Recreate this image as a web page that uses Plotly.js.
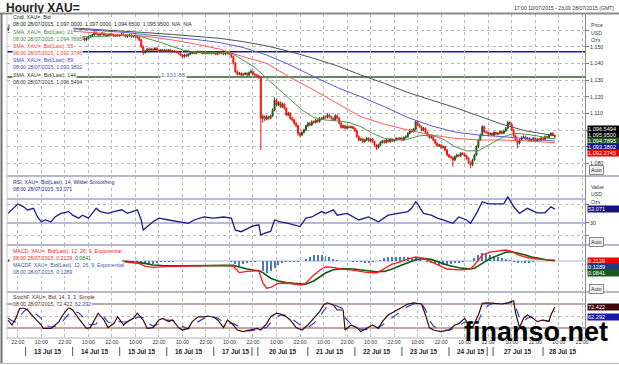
<!DOCTYPE html>
<html><head><meta charset="utf-8">
<script src="https://cdn.plot.ly/plotly-3.0.1.min.js"></script>
<style>html,body{margin:0;padding:0;background:#fff;}#chart{width:619px;height:365px;}</style>
</head><body><div id="chart"></div>
<script>
// ---------- DATA (hourly bars, trading-hour index) ----------
const openP = [1160,1161,1162,1160,1159,1159.5,1158,1157,1157.5,1158,
1158.5,1159,1158,1157,1157.5,1156,1155,1156,1157,1156.5,
1156,1157,1156,1155.5,1156,1155,1154,1155,1156,1156.5,
1156,1157,1156.5,1156,1155,1155.5,1154.5,1155,1156,1155,
1154,1155,1156,1156.5,1157,1158.5,1157.5,1157,1157.5,1158,
1157,1156.5,1157,1157.5,1157,1156.5,1157,1156.5,1157,1157.5,
1157,1156,1156.5,1157,1156,1156.5,1156,1155.5,1154,1150,
1146.5,1147.5,1148.5,1148,1148.5,1148,1149,1148,1147.5,1148,
1147.5,1148,1147.5,1148,1147,1147.5,1147,1146.5,1146,1145,
1144,1145,1144.5,1145.5,1146,1146.5,1146,1146.5,1147,1146.5,
1146,1146.5,1146,1146.5,1146,1146.5,1146,1145.5,1146,1146.5,
1146,1145.5,1146,1146.5,1145.5,1144,1140,1135,1133.5,1134,
1133,1133.5,1134,1133,1134.5,1135,1133.5,1133,1132.5,1131.5,
1107,1108,1106.5,1108,1107,1108.5,1112,1118,1115,1116.5,
1114,1115.5,1113,1109,1110,1107,1106,1104,1102.5,1098,
1097,1098.5,1100,1102.5,1104,1103,1105,1104.5,1106,1105,
1107,1106.5,1108,1107.5,1109,1108,1107,1106,1108.5,1107,
1104,1101.5,1102.5,1101,1102,1101.5,1102,1101,1099.5,1096,
1094,1094.5,1093,1094,1095,1093.5,1094.5,1093,1091,1089.5,
1091,1092.5,1093.5,1092.5,1094,1093,1094.5,1093.5,1094,1095,
1094.5,1095,1094,1095.5,1096,1098,1100,1099,1100.5,1105,
1103,1102,1100,1101,1098.5,1097,1095.5,1096,1094,1092,
1090.5,1091,1089.5,1090,1088,1085,1084,1083.5,1082,1084,
1085,1084.5,1086,1085.5,1084.5,1083,1080.5,1079,1082,1085,
1090,1094,1097,1102,1099,1098.5,1097.5,1098,1097,1098.5,
1097.5,1098,1099,1098,1099.5,1101,1104.5,1103.5,1100,1096.5,
1094,1092,1094,1095.5,1096,1094.5,1095,1093.5,1094,1095,
1093.5,1094.5,1094,1095,1094.5,1096,1095.5,1097,1098,1097];
const highP = [1162,1163,1162.8,1160.6,1160.2,1160,1158.6,1158.2,1158.7,1159.2,
1159.8,1159.6,1158.5,1158.1,1158,1156.7,1156.6,1157.8,1157.6,1157.2,
1157.7,1157.6,1156.8,1156.6,1156.5,1155.7,1155.8,1156.7,1157.3,1157,
1157.8,1157.6,1157.1,1156.6,1156.3,1156.2,1155.7,1156.8,1156.6,1155.6,
1155.6,1156.7,1157.2,1157.6,1160.5,1159.2,1158.2,1158.2,1158.8,1158.6,
1157.6,1157.7,1158.2,1158.1,1157.6,1157.6,1157.7,1157.6,1158.3,1158.1,
1157.6,1157.2,1157.8,1157.6,1157.1,1157.2,1156.6,1156.2,1154.8,1150.8,
1148.2,1149.3,1149.6,1149.2,1149.1,1149.8,1149.7,1148.6,1148.7,1148.6,
1148.7,1148.6,1148.6,1148.5,1148.1,1148.1,1147.6,1147.1,1146.6,1145.6,
1145.7,1145.8,1146.1,1146.7,1147.1,1147.2,1147.1,1147.6,1147.6,1147.1,
1147.1,1147.1,1147.2,1147,1147.1,1147.2,1146.6,1146.6,1147.2,1147.1,
1146.6,1146.6,1147.2,1147,1146.1,1144.6,1140.6,1135.8,1134.8,1134.6,
1134.2,1134.7,1134.6,1135.2,1136.5,1135.6,1134.1,1133.6,1133.1,1132,
1109.5,1108.8,1108.9,1108.7,1109.2,1113,1119.5,1118.7,1117.3,1117.2,
1116.4,1116.1,1113.6,1111,1110.8,1108,1106.8,1104.7,1103.2,1098.8,
1099.3,1100.8,1103.2,1104.8,1104.9,1105.8,1105.7,1106.8,1106.6,1107.8,
1107.8,1108.8,1108.7,1110,1109.8,1108.7,1107.6,1109.5,1109.3,1107.7,
1104.6,1103.3,1103.2,1102.8,1102.8,1102.7,1102.6,1101.7,1100.2,1096.7,
1095.3,1095.2,1094.8,1095.8,1095.7,1095.1,1095.2,1093.6,1091.7,1091.7,
1093.2,1094.1,1094.2,1094.7,1094.6,1095.2,1095.1,1094.8,1095.7,1095.6,
1095.8,1095.6,1096.2,1096.8,1098.7,1100.8,1100.6,1101.3,1106,1105.7,
1103.8,1102.6,1101.8,1101.6,1099.2,1097.6,1096.8,1096.6,1094.7,1092.6,
1091.8,1091.6,1090.8,1090.6,1088.7,1085.8,1084.7,1084.2,1084.8,1085.8,
1085.7,1086.8,1086.7,1086.1,1085.2,1083.6,1081.2,1082.8,1085.8,1090.8,
1094.8,1097.8,1102.8,1102.6,1099.7,1099.1,1098.6,1098.6,1099.2,1099.1,
1098.7,1099.7,1099.6,1100.2,1101.8,1105.5,1105.2,1104.1,1100.6,1097.2,
1094.6,1094.8,1096.2,1096.8,1096.7,1095.8,1095.6,1094.8,1095.7,1095.6,
1095.2,1095.1,1095.8,1095.6,1096.8,1096.7,1097.8,1098.7,1098.6,1097];
const lowP = [1159.4,1160.5,1159.3,1158.4,1158.5,1157.4,1156.5,1156.4,1157,1157.5,
1157.9,1157.4,1156.4,1156.5,1155.5,1154.3,1154.4,1155.4,1156,1155.3,
1155.4,1155.5,1154.8,1155,1154.3,1153.3,1153.5,1154.4,1155.4,1155.4,
1155.3,1155.9,1155.4,1154.3,1154.4,1153.8,1153.9,1154.5,1154.4,1153.2,
1153.3,1154.4,1155.4,1155.9,1156.5,1156.9,1156.3,1156.4,1156.9,1156.4,
1155.8,1155.9,1156.4,1156.4,1155.9,1155.8,1155.9,1155.8,1156.4,1156.3,
1155.4,1155.3,1155.9,1155.3,1155.4,1155.3,1154.8,1153.3,1149.2,1145,
1145.8,1146.8,1147.3,1147.4,1147.3,1147.4,1147.4,1146.8,1146.9,1146.9,
1146.9,1146.8,1146.9,1146.4,1146.4,1146.3,1145.9,1145.3,1144.2,1143,
1143.3,1143.8,1143.9,1144.9,1145.4,1145.4,1145.3,1145.9,1145.9,1145.4,
1145.4,1145.3,1145.4,1145.4,1145.3,1145.4,1144.9,1144.8,1145.4,1145.4,
1144.9,1144.9,1145.3,1144.8,1143.3,1139.2,1134.3,1132.6,1132.8,1132.3,
1132.4,1132.9,1132.4,1132.4,1133.9,1132.9,1132.4,1131.8,1130.8,1088,
1104.5,1105.3,1105.8,1106.2,1106.3,1107.8,1111.2,1114.2,1114.3,1113.2,
1113.3,1112.2,1108.2,1108.3,1106.2,1105.2,1103.2,1101.6,1096.5,1095.5,
1096.3,1097.8,1099.3,1101.8,1102.2,1102.3,1103.8,1103.8,1104.3,1104.4,
1105.8,1105.9,1106.8,1106.9,1107.3,1106.2,1105.3,1105.4,1106.3,1103.2,
1100.8,1100.9,1100.3,1100.4,1100.9,1100.8,1100.3,1098.8,1095.2,1093.2,
1093.3,1092.2,1092.4,1093.3,1092.8,1092.9,1092.2,1090.2,1088,1088.8,
1090.4,1091.8,1091.8,1091.9,1092.3,1092.4,1092.8,1092.9,1093.4,1093.8,
1093.8,1093.3,1093.4,1094.8,1095.4,1097.3,1098.3,1098.4,1099.8,1102.2,
1101.3,1099.2,1099.3,1097.8,1096.2,1094.8,1094.8,1093.2,1091.2,1089.8,
1089.8,1088.6,1088.8,1087.2,1084.2,1083.2,1082.6,1078,1081.3,1083.3,
1083.8,1083.8,1084.8,1083.7,1082.2,1079.6,1077,1078.3,1081.3,1084.3,
1089.2,1093.3,1096.2,1098.2,1097.8,1096.8,1096.9,1096.3,1096.4,1096.8,
1096.8,1097.3,1097.3,1097.4,1098.8,1100.3,1102.8,1099.2,1095.8,1093.2,
1089,1091.3,1093.3,1094.8,1093.8,1093.8,1092.8,1092.8,1093.3,1092.9,
1092.8,1093.3,1093.4,1093.8,1093.8,1094.8,1094.9,1096.3,1096.4,1094.65];
const closeP = [1161,1162,1160,1159,1159.5,1158,1157,1157.5,1158,1158.5,
1159,1158,1157,1157.5,1156,1155,1156,1157,1156.5,1156,
1157,1156,1155.5,1156,1155,1154,1155,1156,1156.5,1156,
1157,1156.5,1156,1155,1155.5,1154.5,1155,1156,1155,1154,
1155,1156,1156.5,1157,1158.5,1157.5,1157,1157.5,1158,1157,
1156.5,1157,1157.5,1157,1156.5,1157,1156.5,1157,1157.5,1157,
1156,1156.5,1157,1156,1156.5,1156,1155.5,1154,1150,1146.5,
1147.5,1148.5,1148,1148.5,1148,1149,1148,1147.5,1148,1147.5,
1148,1147.5,1148,1147,1147.5,1147,1146.5,1146,1145,1144,
1145,1144.5,1145.5,1146,1146.5,1146,1146.5,1147,1146.5,1146,
1146.5,1146,1146.5,1146,1146.5,1146,1145.5,1146,1146.5,1146,
1145.5,1146,1146.5,1145.5,1144,1140,1135,1133.5,1134,1133,
1133.5,1134,1133,1134.5,1135,1133.5,1133,1132.5,1131.5,1107,
1108,1106.5,1108,1107,1108.5,1112,1118,1115,1116.5,1114,
1115.5,1113,1109,1110,1107,1106,1104,1102.5,1098,1097,
1098.5,1100,1102.5,1104,1103,1105,1104.5,1106,1105,1107,
1106.5,1108,1107.5,1109,1108,1107,1106,1108.5,1107,1104,
1101.5,1102.5,1101,1102,1101.5,1102,1101,1099.5,1096,1094,
1094.5,1093,1094,1095,1093.5,1094.5,1093,1091,1089.5,1091,
1092.5,1093.5,1092.5,1094,1093,1094.5,1093.5,1094,1095,1094.5,
1095,1094,1095.5,1096,1098,1100,1099,1100.5,1105,1103,
1102,1100,1101,1098.5,1097,1095.5,1096,1094,1092,1090.5,
1091,1089.5,1090,1088,1085,1084,1083.5,1082,1084,1085,
1084.5,1086,1085.5,1084.5,1083,1080.5,1079,1082,1085,1090,
1094,1097,1102,1099,1098.5,1097.5,1098,1097,1098.5,1097.5,
1098,1099,1098,1099.5,1101,1104.5,1103.5,1100,1096.5,1094,
1092,1094,1095.5,1096,1094.5,1095,1093.5,1094,1095,1093.5,
1094.5,1094,1095,1094.5,1096,1095.5,1097,1098,1097,1095.95];

const smaIdx = [0,12,24,36,48,60,72,84,96,108,120,132,144,156,168,180,192,204,216,228,240,252,264,276,279];
const sma144 = [1163,1162.5,1162,1161,1160.2,1159.3,1158.3,1157.3,1156.3,1155,1153,1150.5,1147,1143,1138.5,1133,1128,1122.5,1118,1113.5,1108.5,1103.5,1099.5,1097,1096.55];
const sma89  = [1162,1161.5,1161,1160.5,1159.5,1158.5,1157,1155.8,1154.3,1152.5,1149.5,1145,1139,1132,1125.5,1120,1114,1107.5,1102.5,1098.8,1097,1096,1095,1093.8,1093.38];
const sma55  = [1161.5,1160.5,1159.5,1159,1158,1157.3,1156,1154,1151.5,1148.5,1144,1140,1131.5,1124,1116,1108,1103.5,1100,1097,1095,1094,1094,1093.5,1092.8,1092.37];
const sma21Idx = [0,6,12,18,24,30,36,42,48,54,60,66,72,78,84,90,96,102,108,114,120,126,132,138,144,150,156,162,168,174,180,186,192,198,204,210,216,222,228,234,240,246,252,258,264,270,276,279];
const sma21 = [1158.5,1158.5,1158.5,1157.5,1157,1156.5,1156.2,1155.8,1156.2,1156.8,
1157,1156.7,1154.8,1152.5,1150,1147.8,1146.8,1146.3,1146.2,1146.2,
1142,1137.5,1131,1124.5,1118,1112,1107.5,1106,1105.5,1104.5,
1102,1098,1095,1094,1094.5,1096.5,1097,1094.5,1090,1087.5,
1087.5,1091.5,1095.5,1098,1097.5,1096.5,1095,1094.79];

const rsiIdx = [0,3,5,8,10,13,15,17,19,22, 24,27,31,33,36,38,41,43,45,47, 51,54,58,61,64,66,68,69,74,77,
82,87,92,95,100,105,110,114,116,119, 125,128,129,131,134,136,139,143,146,149, 152,155,160,162,166,168,173,179,184,189,
194,199,204,206,208,209,212,216,219,222, 227,230,234,236,239,242,245,248,253,255, 258,261,265,270,274,277,279];
const rsiVal = [46,54.5,61.7,57,51.7,54.5,40.5,32,35,32, 40,46,49,43,38,43,38,46,54.5,49, 46,49,52,46,49,52,35,18.3,32,38,
35,32,29.5,35,40,38,40,38,18,15.5, 25,27,10,13,16,35,32,29.5,27,24, 38,40,49,46,52,43,46,35,40,32,
43,46,49,55,65.5,62,46,43,38,35, 29.5,40,35,29.5,46,65.5,62,62,62,74, 57,46,54.5,47,47,57,53.071];

const macdIdx = [0,12,24,36,48,60,66,70,74,80,90,100,110,115,118,122,126,128,130,132,134,138,142,146,150,152,156,160,162,166,170,176,182,188,192,196,200,204,208,212,216,220,224,230,236,238,240,242,246,250,254,257,260,264,268,272,276,279];
const macdLine = [0.2,-0.2,-0.3,0.0,0.2,-0.3, -0.5,-1.3,-1.6,-1.4,-1.3, -1.2,-1.1,-1.3,-2.9,-2.6, -2.4,-2.4,-5.5,-6.8,-6.6,
-5.6,-5.5,-5.8,-6.0,-5.5, -3.5,-2.0,-1.5,-1.6,-2.0, -2.3,-2.8,-3.0,-2.0,-0.8, -0.2,0.5,1.0,0.7,-0.2,
-1.2,-2.0,-2.2,-2.0,-1.0, 0.3,1.5,2.2,2.5,2.75, 2.4,1.6,1.0,0.6,0.4, 0.3,0.2129];
const signalLine = [0.1,0.0,-0.2,-0.1,0.1,-0.1, -0.3,-0.6,-1.0,-1.2,-1.2, -1.2,-1.1,-1.1,-1.5,-2.0, -2.3,-2.4,-2.9,-3.6,-4.3,
-5.0,-5.4,-5.6,-5.8,-5.8, -5.0,-3.8,-3.0,-2.2,-1.9, -2.0,-2.4,-2.7,-2.6,-2.0, -1.2,-0.4,0.3,0.6,0.4,
-0.3,-1.0,-1.7,-2.0,-1.8, -1.3,-0.6,0.6,1.5,2.2, 2.3,2.0,1.5,0.9,0.5, 0.2,0.0841];
// histogram, one value every 2 bars
const macdHist = [0.1,0.1,0.05,0,-0.1,-0.2,-0.2,-0.15,-0.1,-0.1,
-0.1,-0.1,-0.05,0,0.05,0.1,0.1,0.15,0.1,0.1,
0.1,0.1,0.15,0.1,0.1,0.05,0,-0.05,-0.1,-0.1,
-0.15,-0.2,-0.25,-0.3,-0.5,-0.8,-0.9,-0.7,-0.5,-0.35,
-0.25,-0.2,-0.15,-0.1,-0.1,-0.05,-0.05,0,0,0,
0,0,0.05,0.05,0,0,-0.05,-0.2,-0.8,-1.3,
-0.8,-0.5,-0.3,-0.2,-0.1,-2.6,-3.0,-2.6,-1.8,-1.0,
-0.5,-0.3,-0.2,-0.2,-0.2,-0.1,0.4,1.0,1.5,1.6,
1.5,1.3,1.0,0.6,0.3,0.1,0,-0.1,-0.2,-0.3,
-0.3,-0.4,-0.4,-0.3,-0.1,0.3,0.7,0.9,1.0,1.0,
1.0,1.0,0.9,0.8,0.7,0.3,0.1,-0.3,-0.6,-0.8,
-0.9,-0.9,-1.0,-0.8,-0.6,-0.5,-0.3,-0.1,0,0.8,
1.6,2.1,1.9,1.6,1.3,1.0,0.7,0.5,0.2,-0.2,
-0.4,-0.5,-0.5,-0.4,-0.3,-0.1,-0.05,0.05,0.1,0.13];

const stochIdx = [0,2,4,6,8,10,13,17,18,22, 26,28,31,33,36,40,42,45,46,49, 51,54,56,59,61,64,66,69,71,74,
77,79,82,84,87,89,92,94,97,100, 102,105,107,110,112,115,117,120,123,127, 129,132,134,137,139,142,144,147,150,153,
156,159,161,163,166,168,171,172,175,178, 180,183,186,189,191,194,197,201,204,207, 211,213,215,217,221,225,228,230,233,235,
237,240,242,245,248,252,255,258,259,261, 263,265,268,270,273,276,277,279];
const stochK = [40,27.5,44,69,70,65,48,27.5,19,19, 36,52.5,71,65,44,19,21,48,57,40, 21,31,48,27.5,36,44,57,40,19,21,
40,44,36,40,21,15,19,36,48,48, 50,47,40,21,40,27.5,15,11,15,19, 15,31,48,57,55,48,40,21,15,27.5,
44,61,77.5,83,77.5,65,65,15,27.5,21, 11,19,27.5,19,36,52.5,61,73,80,83, 80,52.5,21,15,11,15,27.5,31,44,27.5,
21,52.5,82,83,82,80,83,88,57,21, 44,52.5,44,36,40,36,52.5,72.422];
const stochD = [45,38,35,47,61,68,60,44,30,22, 27,38,55,63,58,40,28,30,42,47, 35,30,36,35,35,38,48,46,33,25,
30,38,40,39,33,24,18,25,36,44, 48,48,45,34,33,31,26,17,13,15, 16,22,33,46,53,52,46,35,24,20,
32,47,63,75,79,74,68,45,30,22, 17,16,20,22,27,38,50,64,74,80, 81,66,40,25,15,14,20,26,35,34,
28,37,60,77,82,81,82,85,72,45, 35,45,47,42,39,37,45,62.292];

const timeTickIdx = [5,17,29,41,53,65,77,89,101,113,125,137,149,161,173,185,197,209,221,233,245,257,269,281,293];
const timeTickText = timeTickIdx.map((_, i) => i % 2 === 0 ? '22:00' : '10:00');
const dateLabels = ['13 Jul 15','14 Jul 15','15 Jul 15','16 Jul 15','17 Jul 15','20 Jul 15','21 Jul 15','22 Jul 15','23 Jul 15','24 Jul 15','27 Jul 15','28 Jul 15'];
const dateCenterIdx = [20,44,68,92,116,140,164,188,212,236,260,283];
const daySepIdx = [9,33,57,81,105,124.5,127.5,153,177,201,225,244.5,247.5,273];
const priceTicks = [1080,1090,1100,1110,1120,1130,1140,1150,1160];
const priceTickText = ['1,080','1,090','1,100','1,110','1,120','1,130','1,140','1,150',''];

// ---------- LAYOUT HELPERS ----------
const F = 'Liberation Sans, Arial, sans-serif';
const L = 7, R = 585, T = 14, B = 338;
const px = x => (x - L) / (R - L);
const py = y => (B - y) / (B - T);
const barIdx = closeP.map((_, i) => i);
const histIdx = macdHist.map((_, i) => i * 2);

const traces = [
  {type:'candlestick', x:barIdx, open:openP, high:highP, low:lowP, close:closeP, xaxis:'x', yaxis:'y',
   increasing:{line:{color:'#1d5a1d', width:1}, fillcolor:'#1d5a1d'},
   decreasing:{line:{color:'#ff1010', width:1}, fillcolor:'#ff1010'},
   whiskerwidth:0, hoverinfo:'skip'},
  {type:'scatter', mode:'lines', x:smaIdx, y:sma144, yaxis:'y', line:{color:'#505050', width:1}, hoverinfo:'skip'},
  {type:'scatter', mode:'lines', x:smaIdx, y:sma89, yaxis:'y', line:{color:'#5a5ad0', width:1}, hoverinfo:'skip'},
  {type:'scatter', mode:'lines', x:smaIdx, y:sma55, yaxis:'y', line:{color:'#ff5a5a', width:1}, hoverinfo:'skip'},
  {type:'scatter', mode:'lines', x:sma21Idx, y:sma21, yaxis:'y', line:{color:'#4f8f4f', width:1}, hoverinfo:'skip'},
  {type:'scatter', mode:'lines', x:rsiIdx, y:rsiVal, yaxis:'y2', line:{color:'#1c1c8c', width:1.3}, hoverinfo:'skip'},
  {type:'bar', x:histIdx, y:macdHist, yaxis:'y3', width:1, marker:{color:'#4a7cb8', line:{width:0}}, hoverinfo:'skip'},
  {type:'scatter', mode:'lines', x:macdIdx, y:signalLine, yaxis:'y3', line:{color:'#0f5a0f', width:1.6}, hoverinfo:'skip'},
  {type:'scatter', mode:'lines', x:macdIdx, y:macdLine, yaxis:'y3', line:{color:'#ff1a1a', width:1.3}, hoverinfo:'skip'},
  {type:'scatter', mode:'lines', x:stochIdx, y:stochD, yaxis:'y4', line:{color:'#3344cc', width:1.2, dash:'dash'}, hoverinfo:'skip'},
  {type:'scatter', mode:'lines', x:stochIdx, y:stochK, yaxis:'y4', line:{color:'#3a0808', width:1.2}, hoverinfo:'skip'}
];

const grid = {showgrid:true, gridcolor:'#b8b8b8', griddash:'dot', gridwidth:1};
const ann = [];
function txt(x, y, text, color, size, extra) {
  ann.push(Object.assign({xref:'paper', yref:'paper', x:px(x), y:py(y), xanchor:'left', yanchor:'middle',
    text:text, showarrow:false, font:{family:F, size:size || 5.2, color:color}}, extra || {}));
}
function box(y, text, bg) {
  ann.push({xref:'paper', yref:'paper', x:px(586.5), y:py(y), xanchor:'left', yanchor:'middle', text:text, showarrow:false,
    font:{family:F, size:5.6, color:'#ffffff'}, bgcolor:bg, borderpad:0, width:32, height:6, align:'left'});
}
function autoBtn(y) {
  ann.push({xref:'paper', yref:'paper', x:px(589), y:py(y), xanchor:'left', yanchor:'middle', text:'Auto', showarrow:false,
    font:{family:F, size:5.2, color:'#333'}, bgcolor:'#f0f0f0', bordercolor:'#8a8a8a', borderwidth:1, borderpad:1});
}
const W = {bgcolor:'#ffffff', borderpad:0};
// title & range text
txt(4, 7.5, '<b>Hourly XAU=</b>', '#222', 12);
ann.push({xref:'paper', yref:'paper', x:px(616), y:py(8), xanchor:'right', yanchor:'middle', showarrow:false,
  text:'17:00 10/07/2015 - 23:00 28/07/2015 (GMT)', font:{family:F, size:5.1, color:'#333'}});
// price legend
txt(12, 17.3, 'Cndl, XAU=, Bid', '#222', 5.2, W);
txt(12, 24.3, '08:00 28/07/2015, 1,097.0000, 1,097.0000, 1,094.6500, 1,095.9500, N/A, N/A', '#222', 5.2, W);
txt(12, 32, 'SMA, XAU=, Bid(Last), 21', '#3f8a3f', 5.2, W);
txt(12, 39, '08:00 28/07/2015, 1,094.7895', '#3f8a3f', 5.2, W);
txt(12, 46, 'SMA, XAU=, Bid(Last), 55', '#f03c3c', 5.2, W);
txt(12, 52.8, '08:00 28/07/2015, 1,092.3745', '#f03c3c', 5.2, W);
txt(12, 60.3, 'SMA, XAU=, Bid(Last), 89', '#4646b8', 5.2, W);
txt(12, 67.5, '08:00 28/07/2015, 1,093.3802', '#4646b8', 5.2, W);
txt(12, 74.7, 'SMA, XAU=, Bid(Last), 144', '#333', 5.2, W);
txt(12, 81.7, '08:00 28/07/2015, 1,096.5494', '#333', 5.2, W);
txt(160, 75, '1,131.85', '#5566a8', 6.2, W);
// RSI legend
txt(12, 182, 'RSI, XAU=, Bid(Last), 14, Wilder Smoothing', '#24248c', 5.2, W);
txt(12, 188.5, '08:00 28/07/2015, 53.071', '#24248c', 5.2, W);
// MACD legend
txt(12, 250.5, 'MACD, XAU=, Bid(Last), 12, 26, 9, Exponential', '#e82828', 5.2, W);
txt(12, 257.5, '08:00 28/07/2015, 0.2129, <span style="color:#1e6e1e">0.0841</span>', '#e82828', 5.2, W);
txt(12, 265, 'MACDF, XAU=, Bid(Last), 12, 26, 9, Exponential', '#3a5aa0', 5.2, W);
txt(12, 272, '08:00 28/07/2015, 0.1289', '#3a5aa0', 5.2, W);
// Stoch legend
txt(12, 296.7, 'StochF, XAU=, Bid, 14, 3, 3, Simple', '#5a2a2a', 5.2, W);
txt(12, 303.7, '08:00 28/07/2015, 72.422, <span style="color:#2a3ab0">62.292</span>', '#5a2a2a', 5.2, W);
// right side texts
txt(589, 25, 'Price', '#333'); txt(589, 32.5, 'USD', '#333'); txt(589, 40, 'Ozs', '#333');
txt(589, 187, 'Value', '#333'); txt(589, 194.5, 'USD', '#333'); txt(589, 202, 'Ozs', '#333');
box(129.3, '1,096.5494', '#000000');
box(135.1, '1,095.9500', '#000000');
box(140.9, '1,094.7895', '#1c5a1c');
box(146.7, '1,093.3802', '#16168a');
box(152.5, '1,092.3745', '#f00000');
box(209, '53.071', '#14147a');
box(261, '0.2129', '#f00000');
box(267, '0.1289', '#1e3c80');
box(273, '0.0841', '#1c5a1c');
box(307, '72.422', '#3c0808');
box(317, '62.292', '#1a1aa8');
autoBtn(170); autoBtn(242); autoBtn(289);
// dates
dateLabels.forEach((d, i) => ann.push({xref:'x', yref:'paper', x:dateCenterIdx[i], y:py(351.5), xanchor:'center', yanchor:'middle',
  text:'<b>' + d + '</b>', showarrow:false, font:{family:F, size:6.4, color:'#222'}}));
// watermark
ann.push({xref:'paper', yref:'paper', x:px(462), y:py(332), xanchor:'left', yanchor:'middle', showarrow:false,
  text:'<b>finanso.net</b>', font:{family:F, size:27, color:'#000'}});

const shapes = [];
function hline(yref, v, color, w) { shapes.push({type:'line', xref:'paper', yref:yref, x0:0, x1:1, y0:v, y1:v, layer:'below', line:{color:color, width:w}}); }
function pline(x0, y0, x1, y1, color, w) { shapes.push({type:'line', xref:'paper', yref:'paper', x0:px(x0), y0:py(y0), x1:px(x1), y1:py(y1), line:{color:color, width:w}}); }
function prect(x0, y0, x1, y1) { shapes.push({type:'rect', xref:'paper', yref:'paper', x0:px(x0), y0:py(y0), x1:px(x1), y1:py(y1), fillcolor:'#ffffff', line:{width:0}, layer:'above'}); }
hline('y', 1147, '#1a1aa8', 1.5);
hline('y', 1131.85, '#2f5f2f', 1.5);
hline('y2', 70, '#a0a0d6', 1.5);
hline('y2', 30, '#a0a0d6', 1.5);
hline('y3', 0, '#a8b4d4', 1);
hline('y4', 80, '#a88888', 1.5);
hline('y4', 20, '#a88888', 1.5);
// label blocks are opaque
prect(9.5, 15, 73, 48.5);
prect(9.5, 254, 122, 276);
// panel separators and frame
pline(7, 176, 619, 176, '#b8b8cc', 2);
pline(7, 245, 619, 245, '#b8b8cc', 2);
pline(7, 292, 619, 292, '#b8b8cc', 2);
pline(585.5, 14, 585.5, 340, '#8a8a8a', 1);
pline(7, 14, 7, 340, '#c8c8d4', 1);
pline(7, 338, 585, 338, '#b0b0b0', 1);
pline(0, 13.5, 619, 13.5, '#8c8c8c', 2);
pline(1.5, 13, 1.5, 364, '#707070', 2);
pline(0, 363.5, 619, 363.5, '#c0c0c0', 1);
daySepIdx.forEach(s => shapes.push({type:'line', xref:'x', yref:'paper', x0:s, x1:s, y0:py(347), y1:py(356), line:{color:'#555', width:1}}));

const layout = {
  width:619, height:365, margin:{l:7, r:34, t:14, b:27}, paper_bgcolor:'#fff', plot_bgcolor:'#fff',
  showlegend:false, font:{family:F, size:5.2, color:'#333'}, bargap:0,
  xaxis:Object.assign({domain:[0,1], range:[-0.5,294.4], anchor:'y4', tickvals:timeTickIdx, ticktext:timeTickText,
    tickfont:{family:F, size:5.2, color:'#333'}, ticks:'', showline:false, zeroline:false, rangeslider:{visible:false}, fixedrange:true}, grid),
  yaxis:Object.assign({domain:[py(176),1], range:[1072.4,1169.6], side:'right', anchor:'x', tickvals:priceTicks, ticktext:priceTickText,
    ticks:'outside', ticklen:3, tickcolor:'#777', tickfont:{family:F, size:5.3, color:'#333'}, zeroline:false, fixedrange:true}, grid),
  yaxis2:Object.assign({domain:[py(245),py(176)], range:[-6.67,108.3], side:'right', anchor:'x', tickvals:[10,30,60], ticktext:['','30',''],
    ticks:'outside', ticklen:3, tickcolor:'#777', tickfont:{family:F, size:5.3, color:'#333'}, zeroline:false, fixedrange:true}, grid),
  yaxis3:{domain:[py(292),py(245)], range:[-7.75,4], side:'right', anchor:'x', showticklabels:false, showgrid:false, zeroline:false, fixedrange:true},
  yaxis4:Object.assign({domain:[0,py(292)], range:[-5,110], side:'right', anchor:'x', tickvals:[50], ticktext:[''],
    ticks:'', zeroline:false, fixedrange:true}, grid),
  annotations:ann, shapes:shapes
};
Plotly.newPlot('chart', traces, layout, {staticPlot:true, displayModeBar:false});
</script></body></html>
